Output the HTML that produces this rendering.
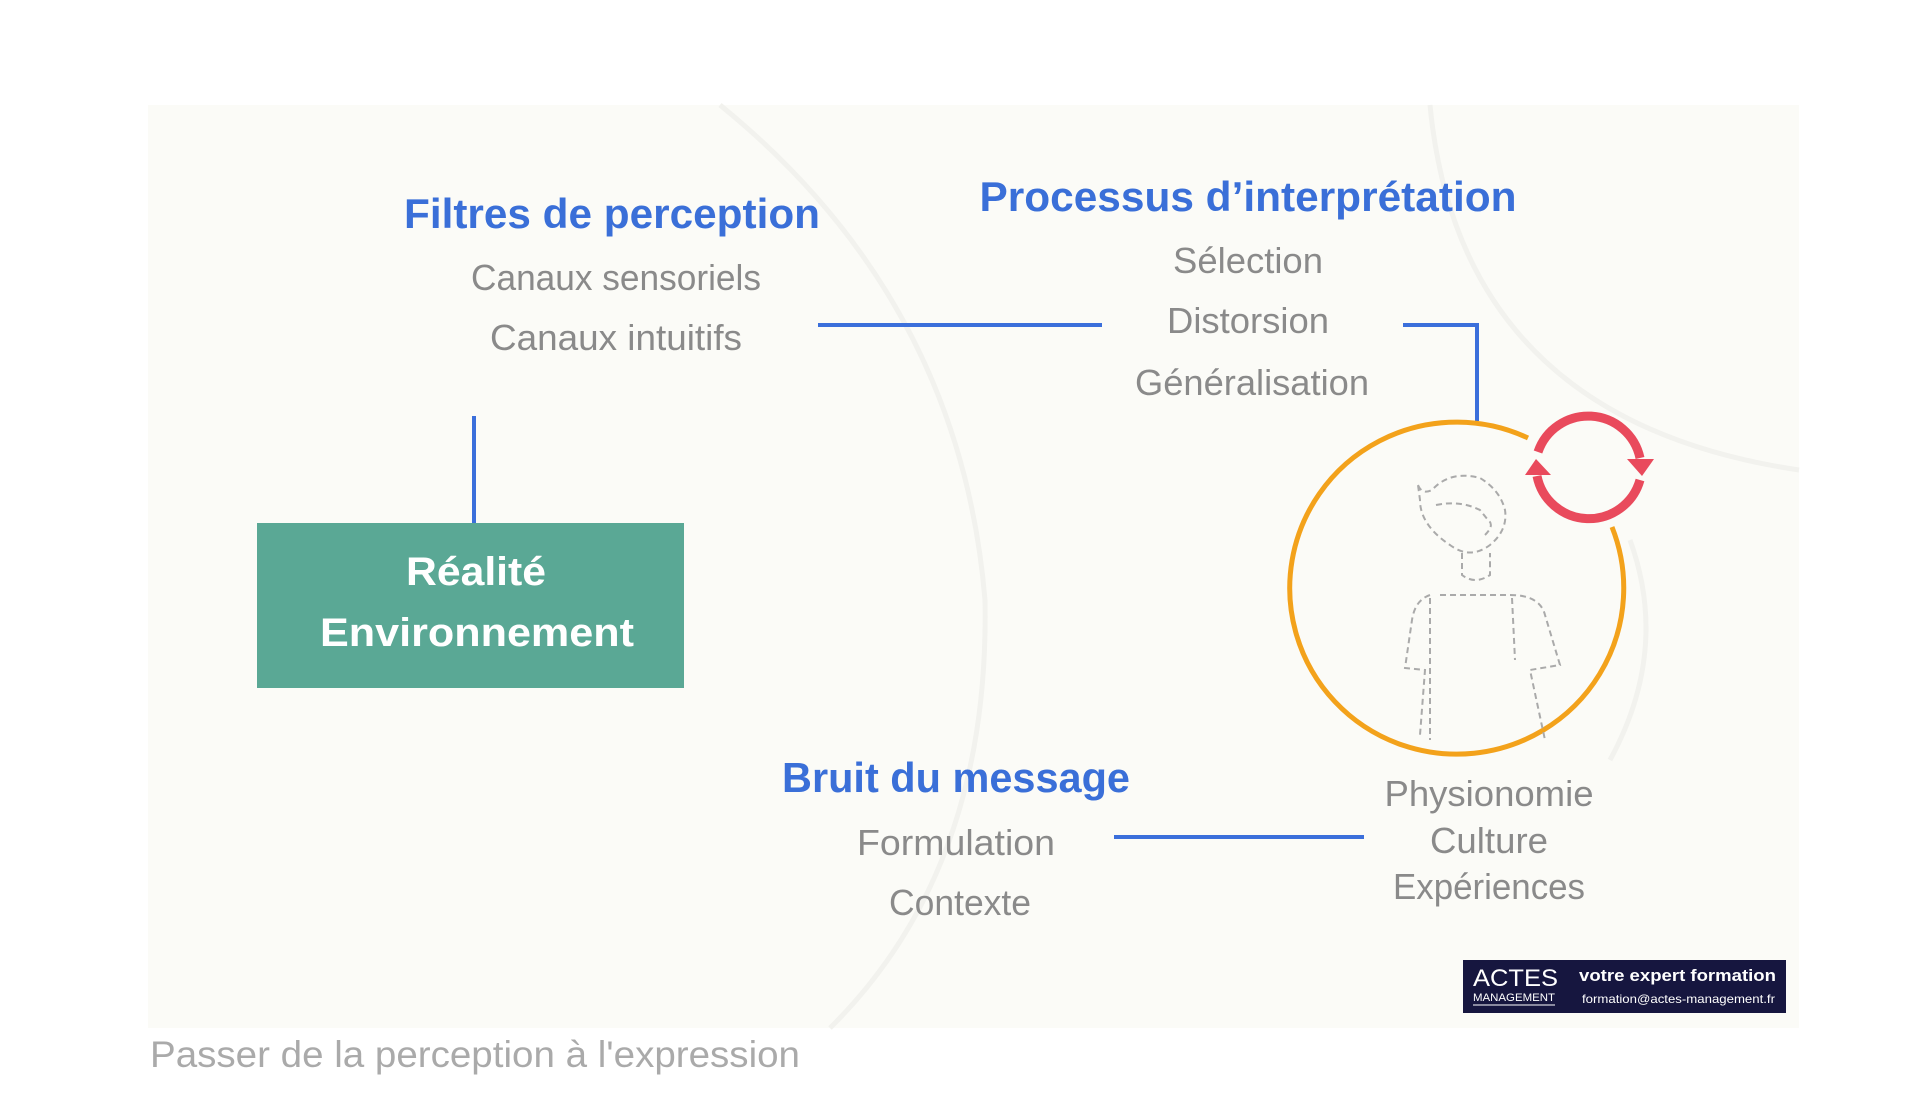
<!DOCTYPE html>
<html><head><meta charset="utf-8"><style>
html,body{margin:0;padding:0;background:#fff;width:1920px;height:1094px;overflow:hidden}
svg{display:block}
</style></head><body>
<svg width="1920" height="1094" viewBox="0 0 1920 1094" xmlns="http://www.w3.org/2000/svg" font-family="Liberation Sans, sans-serif">
<rect x="148" y="105" width="1651" height="923" fill="#fbfbf7"/>
<g fill="none" stroke="#f2f2ee" stroke-width="5">
<path d="M720 105 Q960 300 985 600 Q990 870 830 1028"/>
<path d="M1430 105 Q1460 420 1799 470"/>
<path d="M1630 540 Q1670 650 1610 760"/>
</g>
<g fill="none" stroke="#3b6fdb" stroke-width="4">
<line x1="818" y1="325" x2="1102" y2="325"/>
<polyline points="1403,325 1477,325 1477,421"/>
<line x1="474" y1="416" x2="474" y2="523"/>
<line x1="1114" y1="837" x2="1364" y2="837"/>
</g>
<g text-anchor="middle" font-weight="bold" fill="#3a6fd8" font-size="42">
<text x="612" y="228" textLength="416" lengthAdjust="spacingAndGlyphs">Filtres de perception</text>
<text x="1248" y="211" textLength="537" lengthAdjust="spacingAndGlyphs">Processus d’interprétation</text>
<text x="956" y="792" textLength="348" lengthAdjust="spacingAndGlyphs">Bruit du message</text>
</g>
<g text-anchor="middle" fill="#8a8a8a" font-size="36">
<text x="616" y="290" textLength="290" lengthAdjust="spacingAndGlyphs">Canaux sensoriels</text>
<text x="616" y="350" textLength="252" lengthAdjust="spacingAndGlyphs">Canaux intuitifs</text>
<text x="1248" y="273" textLength="150" lengthAdjust="spacingAndGlyphs">Sélection</text>
<text x="1248" y="333" textLength="162" lengthAdjust="spacingAndGlyphs">Distorsion</text>
<text x="1252" y="395" textLength="234" lengthAdjust="spacingAndGlyphs">Généralisation</text>
<text x="956" y="855" textLength="198" lengthAdjust="spacingAndGlyphs">Formulation</text>
<text x="960" y="915" textLength="142" lengthAdjust="spacingAndGlyphs">Contexte</text>
<text x="1489" y="806" textLength="209" lengthAdjust="spacingAndGlyphs">Physionomie</text>
<text x="1489" y="853" textLength="118" lengthAdjust="spacingAndGlyphs">Culture</text>
<text x="1489" y="899" textLength="192" lengthAdjust="spacingAndGlyphs">Expériences</text>
</g>
<rect x="257" y="523" width="427" height="165" fill="#5aa895"/>
<g text-anchor="middle" font-weight="bold" fill="#fff" font-size="40">
<text x="476" y="585" textLength="140" lengthAdjust="spacingAndGlyphs">Réalité</text>
<text x="477" y="646" textLength="314" lengthAdjust="spacingAndGlyphs">Environnement</text>
</g>
<path d="M1612 527 A167 166 0 1 1 1528 438" fill="none" stroke="#f3a21b" stroke-width="5"/>
<g fill="none" stroke="#e94a5c" stroke-width="9">
<path d="M1538 452 A53 53 0 0 1 1640 458"/>
<path d="M1640 480 A53 53 0 0 1 1537 476"/>
</g>
<g fill="#e94a5c">
<polygon points="1627,459 1654,459 1642,476"/>
<polygon points="1525,475 1551,475 1536,459"/>
</g>
<g fill="none" stroke="#aaa" stroke-width="2" stroke-dasharray="6 4">
<path d="M1418 485 Q1422 495 1432 490 Q1450 470 1480 478 Q1500 490 1505 510 Q1508 530 1490 545 Q1470 560 1450 545 Q1420 525 1420 500 Z"/>
<path d="M1436 505 Q1460 500 1480 510 L1488 520 Q1495 525 1485 535"/>
<path d="M1462 553 L1462 575 Q1475 585 1490 575 L1490 553"/>
<path d="M1440 595 L1510 595 Q1540 595 1545 615 L1560 665 L1530 670 L1545 740"/>
<path d="M1430 595 Q1415 600 1412 620 L1405 668 L1425 670 L1420 735"/>
<path d="M1430 598 L1430 740"/>
<path d="M1512 598 L1515 660"/>
</g>
<rect x="1463" y="960" width="323" height="53" fill="#16163f"/>
<text x="1473" y="986" fill="#fff" font-size="24" textLength="85" lengthAdjust="spacingAndGlyphs">ACTES</text>
<text x="1473" y="1001" fill="#fff" font-size="11" textLength="82" lengthAdjust="spacingAndGlyphs">MANAGEMENT</text>
<line x1="1473" y1="1005" x2="1555" y2="1005" stroke="#fff" stroke-width="1"/>
<text x="1579" y="981" fill="#fff" font-size="17" font-weight="bold" textLength="197" lengthAdjust="spacingAndGlyphs">votre expert formation</text>
<text x="1582" y="1003" fill="#fff" font-size="12" textLength="193" lengthAdjust="spacingAndGlyphs">formation@actes-management.fr</text>
<text x="150" y="1067" fill="#aaa" font-size="37" textLength="650" lengthAdjust="spacingAndGlyphs">Passer de la perception à l'expression</text>
</svg>
</body></html>
